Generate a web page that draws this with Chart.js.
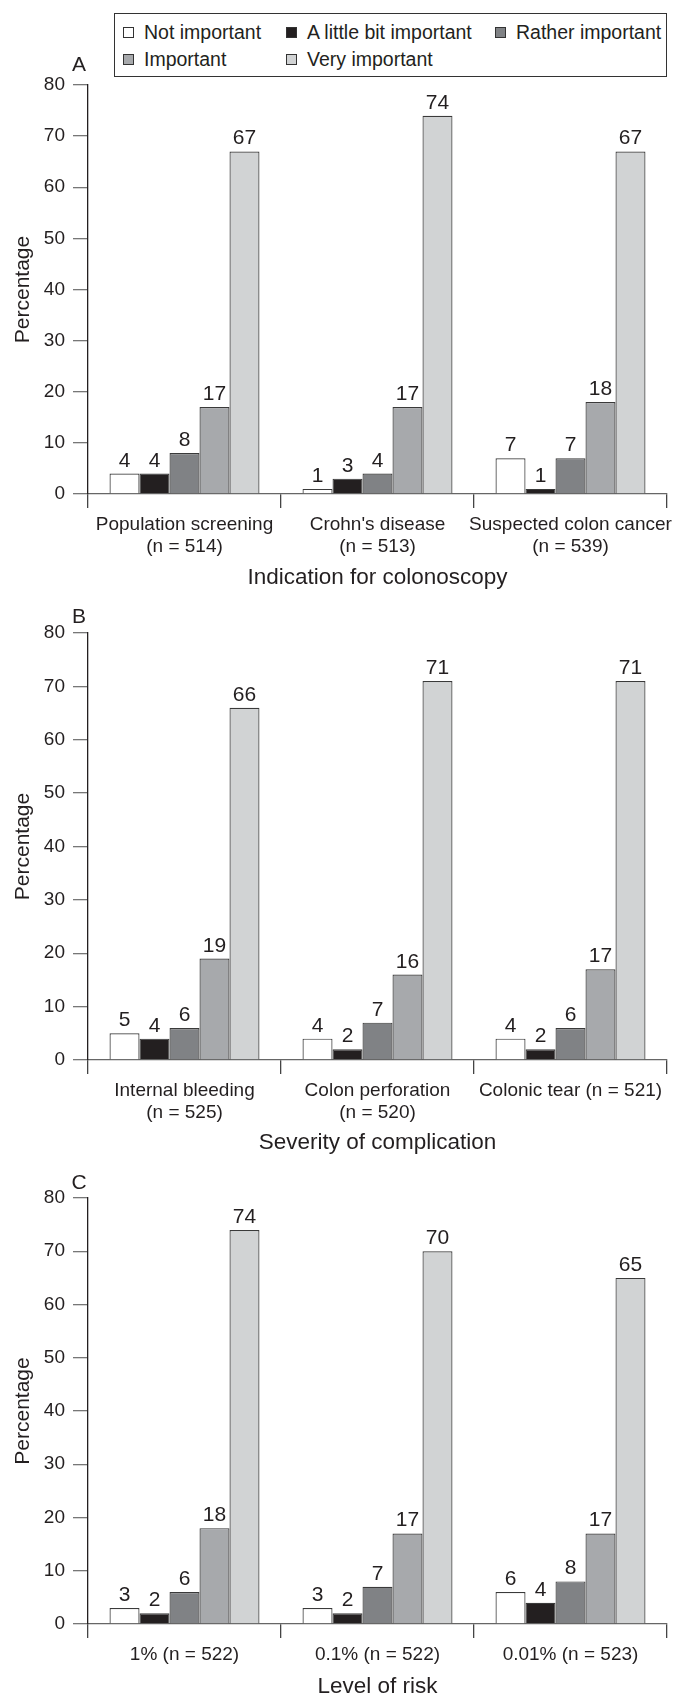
<!DOCTYPE html>
<html>
<head>
<meta charset="utf-8">
<script src="https://cdn.jsdelivr.net/npm/chart.js@4.4.1/dist/chart.umd.min.js"></script>
<style>
  html, body { margin: 0; padding: 0; background: #fff; overflow: hidden; }
  #page { position: relative; width: 675px; height: 1695px; font-family: 'Liberation Sans', Arial, sans-serif; color: #231f20; }
  #page canvas { position: absolute; left: 0; }
  #legend { position: absolute; left: 114px; top: 13px; width: 551px; height: 62px; border: 1.5px solid #333; }
  .item { position: absolute; font-size: 19.5px; line-height: 20px; white-space: nowrap; }
  .item .sw { position: absolute; left: 0; top: 5px; width: 9px; height: 9px; border: 1px solid #333; }
  .item .tx { position: absolute; left: 21px; top: 0; }
</style>
</head>
<body>
<div id="page">
  <div id="legend"></div>
  <canvas id="chartA"></canvas>
  <canvas id="chartB"></canvas>
  <canvas id="chartC"></canvas>
</div>
<script>
// Du lieu chung
const seriesNames = ['Not important', 'A little bit important', 'Rather important', 'Important', 'Very important'];
const seriesColors = ['#ffffff', '#231f20', '#808285', '#a7a9ac', '#d1d3d4'];
const yTicks = [0, 10, 20, 30, 40, 50, 60, 70, 80];

// Panel A - Indication for colonoscopy
const catsA = [['Population screening', '(n = 514)'], ["Crohn's disease", '(n = 513)'], ['Suspected colon cancer', '(n = 539)']];
const notA = [4, 1, 7];
const littleA = [4, 3, 1];
const ratherA = [8, 4, 7];
const importantA = [17, 17, 18];
const veryA = [67, 74, 67];

// Panel B - Severity of complication
const catsB = [['Internal bleeding', '(n = 525)'], ['Colon perforation', '(n = 520)'], 'Colonic tear (n = 521)'];
const notB = [5, 4, 4];
const littleB = [4, 2, 2];
const ratherB = [6, 7, 6];
const importantB = [19, 16, 17];
const veryB = [66, 71, 71];

// Panel C - Level of risk
const catsC = ['1% (n = 522)', '0.1% (n = 522)', '0.01% (n = 523)'];
const notC = [3, 3, 6];
const littleC = [2, 2, 4];
const ratherC = [6, 7, 8];
const importantC = [18, 17, 17];
const veryC = [74, 70, 65];

Chart.defaults.font.family = "'Liberation Sans', Arial, sans-serif";
Chart.defaults.color = '#231f20';

// Legend (2 hang, 3 cot)
const legendCols = [8, 171, 380];
const legendRows = [8, 35];
const legendEl = document.getElementById('legend');
seriesNames.forEach((name, i) => {
    const d = document.createElement('div');
    d.className = 'item';
    d.style.left = legendCols[i % 3] + 'px';
    d.style.top = legendRows[Math.floor(i / 3)] + 'px';
    d.innerHTML = '<span class="sw" style="background:' + seriesColors[i] + '"></span><span class="tx">' + name + '</span>';
    legendEl.appendChild(d);
});

// Ve so lieu tren dau cot + chu cai panel
const labelPlugin = {
    id: 'barLabels',
    afterDatasetsDraw(chart, args, opts) {
        const ctx = chart.ctx;
        ctx.save();
        ctx.font = '21px ' + Chart.defaults.font.family;
        ctx.fillStyle = '#231f20';
        ctx.textAlign = 'center';
        ctx.textBaseline = 'alphabetic';
        chart.data.datasets.forEach((ds, di) => {
            chart.getDatasetMeta(di).data.forEach((bar, i) => {
                ctx.fillText(String(ds.data[i]), bar.x, bar.y - 7);
            });
        });
        ctx.textBaseline = 'middle';
        ctx.fillText(opts.letter, chart.chartArea.left - 9, chart.chartArea.top - opts.letterGap);
        ctx.restore();
    }
};

function makeChart(id, box, cats, series, letter, xTitle) {
    const cv = document.getElementById(id);
    cv.width = 675;
    cv.height = box.height;
    cv.style.top = box.top + 'px';
    new Chart(cv.getContext('2d'), {
        type: 'bar',
        data: {
            labels: cats,
            datasets: series.map((vals, i) => ({
                label: seriesNames[i],
                data: vals,
                backgroundColor: seriesColors[i],
                borderColor: '#3a3a3a',
                borderWidth: 1.2,
                categoryPercentage: 0.777,
                barPercentage: 1.0
            }))
        },
        options: {
            responsive: false,
            animation: false,
            layout: { padding: { top: box.padTop, right: 8, bottom: 0, left: 0 } },
            plugins: {
                legend: { display: false },
                tooltip: { enabled: false },
                barLabels: { letter: letter, letterGap: box.letterGap }
            },
            scales: {
                x: {
                    grid: { offset: true, drawOnChartArea: false, tickLength: 14, color: '#444', lineWidth: 1.3 },
                    border: { display: true, color: '#666', width: 1.3 },
                    ticks: { font: { size: 19, lineHeight: 1.14 }, padding: 6, maxRotation: 0, autoSkip: false },
                    title: { display: true, text: xTitle, font: { size: 22.5, lineHeight: 1 }, padding: 0 },
                    // giu nguyen khung ve, khong de nhan dai day truc
                    afterFit: s => { s.height = box.xHeight; s.paddingLeft = 0; s.paddingRight = 0; }
                },
                y: {
                    min: 0,
                    max: 80,
                    afterBuildTicks: s => { s.ticks = yTicks.map(v => ({ value: v })); },
                    grid: { drawOnChartArea: false, tickLength: 15, color: '#777', lineWidth: 1.3 },
                    border: { display: true, color: '#231f20', width: 1.3 },
                    ticks: { font: { size: 19 }, padding: 8 },
                    title: { display: true, text: 'Percentage', font: { size: 21, lineHeight: 1 }, padding: { top: 13, bottom: 0 } },
                    afterFit: s => { s.width = 88; s.paddingTop = 0; s.paddingBottom = 0; }
                }
            }
        },
        plugins: [labelPlugin]
    });
}

makeChart('chartA', { top: 0, height: 589, padTop: 85, xHeight: 95, letterGap: 20 }, catsA,
    [notA, littleA, ratherA, importantA, veryA], 'A', 'Indication for colonoscopy');
makeChart('chartB', { top: 589, height: 565, padTop: 44, xHeight: 94, letterGap: 16 }, catsB,
    [notB, littleB, ratherB, importantB, veryB], 'B', 'Severity of complication');
makeChart('chartC', { top: 1154, height: 544, padTop: 44, xHeight: 74, letterGap: 15 }, catsC,
    [notC, littleC, ratherC, importantC, veryC], 'C', 'Level of risk');
</script>
</body>
</html>
